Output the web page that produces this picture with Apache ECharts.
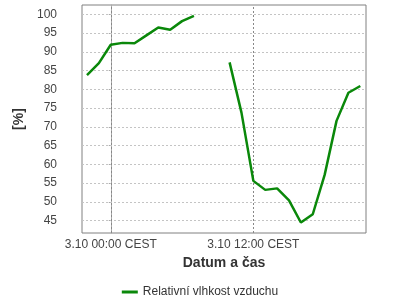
<!DOCTYPE html>
<html><head><meta charset="utf-8">
<script src="https://cdn.jsdelivr.net/npm/echarts@6/dist/echarts.min.js"></script>
<style>html,body{margin:0;padding:0;background:#fff}#c{width:400px;height:300px}</style>
</head><body><div id="c"></div>
<script>
const hours = [-2,-1,0,1,2,3,4,5,6,7,8,9,10,11,12,13,14,15,16,17,18,19,20,21];
const humidity = [83.8,87.0,91.9,92.4,92.3,94.4,96.5,95.9,98.2,99.6,null,null,87.2,73.8,55.6,53.2,53.6,50.4,44.5,46.7,57.2,71.6,79.1,80.9];
const xTickHours = [0,12];
const xTickLabels = ['3.10 00:00 CEST','3.10 12:00 CEST'];
const yTicks = [45,50,55,60,65,70,75,80,85,90,95,100];
const seriesName = 'Relativní vlhkost vzduchu';
const xName = 'Datum a čas';
const yName = '[%]';

const font = 'Liberation Sans, Arial, sans-serif';
const chart = echarts.init(document.getElementById('c'), null, {renderer:'canvas'});
chart.setOption({
  animation:false,
  backgroundColor:'#fff',
  textStyle:{fontFamily:font},
  grid:{left:82,right:34,top:5,bottom:67,show:true,borderColor:'#808080',borderWidth:1,backgroundColor:'#fff'},
  legend:{
    top:281,left:'center',itemWidth:16,itemHeight:3,itemGap:10,
    textStyle:{fontFamily:font,fontSize:12,color:'#333'},
    data:[{name:seriesName,icon:'rect'}]
  },
  xAxis:{
    type:'value',min:-2.42,max:21.48,
    name:xName,nameLocation:'middle',nameGap:22,
    nameTextStyle:{fontFamily:font,fontSize:14,fontWeight:'bold',color:'#333'},
    axisLine:{show:false},
    axisTick:{show:false},
    splitLine:{show:false},
    axisLabel:{customValues:xTickHours,margin:6,fontFamily:font,fontSize:12,color:'#444',
      formatter:function(v){const i=xTickHours.indexOf(v);return i>=0?xTickLabels[i]:'';}}
  },
  yAxis:{
    type:'value',min:41.7,max:102.5,offset:21,
    name:yName,nameLocation:'middle',nameGap:27,
    nameTextStyle:{fontFamily:font,fontSize:14,fontWeight:'bold',color:'#333'},
    axisLine:{show:true,lineStyle:{color:'#aaa',width:1}},
    axisTick:{show:true,customValues:yTicks,length:2,lineStyle:{color:'#aaa'}},
    splitLine:{show:false},
    axisLabel:{customValues:yTicks,margin:4,fontFamily:font,fontSize:12,color:'#444'}
  },
  series:[{
    name:seriesName,type:'line',symbol:'none',connectNulls:false,
    data:hours.map((h,i)=>[h,humidity[i]]),
    lineStyle:{color:'#0a880a',width:2.5},
    itemStyle:{color:'#0a880a'},
    z:5,
    markLine:{
      silent:true,symbol:'none',label:{show:false},animation:false,
      data:[
        ...yTicks.map(v=>({yAxis:v,lineStyle:{color:'#c4c4c4',type:[2,2],width:1}})),
        ...xTickHours.map(v=>({xAxis:v,lineStyle:{color:'#888',type:[2,2],width:1}}))
      ]
    }
  }]
});
</script></body></html>
